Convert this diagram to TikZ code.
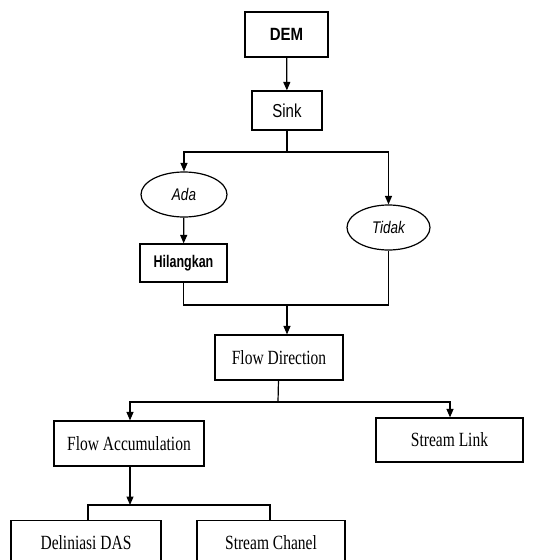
\documentclass[tikz,border=0pt]{standalone}
\usepackage{fontspec}
\setmainfont{Liberation Serif}
\setsansfont{Liberation Sans}
\usetikzlibrary{arrows.meta,shapes.geometric}
\newcommand{\tallt}[2][1.25]{\scalebox{1}[#1]{#2}}

\begin{document}
\begin{tikzpicture}[x=1pt, y=-1pt,
    box/.style={draw, line width=1.2pt, inner sep=0pt, font=\fontsize{15.5}{18}\selectfont},
    sbox/.style={box, font=\sffamily\fontsize{15}{18}\selectfont},
    oval/.style={draw, ellipse, line width=1.2pt, inner sep=0pt, font=\sffamily\itshape\fontsize{13.5}{16}\selectfont},
    link/.style={line width=1.2pt},
    arr/.style={link, -{Triangle[length=8.5pt,width=7pt]}}]
  \useasboundingbox (0,0) rectangle (539,560);
  \clip (0,0) rectangle (539,560);

  % Top: DEM and Sink
  \node[sbox, font=\sffamily\bfseries\fontsize{15}{18}\selectfont, minimum width=83, minimum height=45] (dem) at (286.5,34.5) {\tallt[1.18]{DEM}};
  \node[sbox, minimum width=70, minimum height=39] (sink) at (287,110.5) {\tallt{Sink}};

  % Ada / Tidak
  \node[oval, minimum width=86, minimum height=45] (ada) at (184,194.5) {\tallt{Ada}};
  \node[oval, minimum width=83, minimum height=45] (tidak) at (388.5,227.5) {\tallt{Tidak}};
  \node[sbox, font=\sffamily\bfseries\fontsize{12.5}{15}\selectfont, minimum width=87, minimum height=38] (hilang) at (183.5,263) {\tallt[1.35]{Hilangkan}};

  % Flow
  \node[box, minimum width=128, minimum height=45] (fdir) at (279,357.5) {\tallt[1.3]{Flow Direction}};
  \node[box, minimum width=150, minimum height=45] (facc) at (129,443.5) {\tallt[1.3]{Flow Accumulation}};
  \node[box, minimum width=147, minimum height=44] (slink) at (449.5,440) {\tallt[1.3]{Stream Link}};

  % Bottom (cut off)
  \node[box, minimum width=150, minimum height=44, anchor=north] (das) at (86,520) {\tallt[1.3]{Deliniasi DAS}};
  \node[box, minimum width=148, minimum height=44, anchor=north] (chanel) at (271,520) {\tallt[1.3]{Stream Chanel}};

  % Connectors
  \coordinate (splitA) at (287,152);
  \coordinate (joinB) at (287,305);
  \coordinate (splitC) at (278,402);
  \coordinate (splitD) at (130,505);

  \draw[arr] (dem) -- (sink);
  \draw[link] (sink) -- (splitA);
  \draw[arr] (splitA) -| (ada);
  \draw[arr] (splitA) -| (tidak);
  \draw[arr] (ada) -- (hilang);
  \draw[link] (hilang.south) |- (joinB) -| (tidak.south);
  \draw[arr] (joinB) -- (joinB |- fdir.north);
  \draw[link] (fdir) -- (splitC);
  \draw[arr] (splitC) -| (facc.north -| splitD);
  \draw[arr] (splitC) -| (slink.north -| 450,0);
  \draw[arr] (facc.south -| splitD) -- (splitD);
  \draw[link] (das.north -| 88,0) |- (splitD) -| (chanel.north -| 270,0);
\end{tikzpicture}
\end{document}
